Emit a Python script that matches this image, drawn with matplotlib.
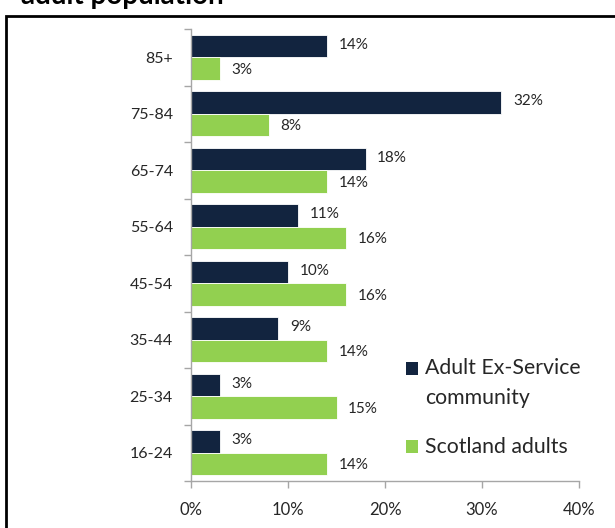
import matplotlib
matplotlib.use("Agg")
import matplotlib.pyplot as plt
from matplotlib.patches import Rectangle
import numpy as np

plt.rcParams['font.family'] = ['Lato', 'DejaVu Sans']

categories = ["16-24", "25-34", "35-44", "45-54", "55-64", "65-74", "75-84", "85+"]
ex_service = [3, 3, 9, 10, 11, 18, 32, 14]
scotland = [14, 15, 14, 16, 16, 14, 8, 3]
xticks = [0, 10, 20, 30, 40]
xtick_labels = ["0%", "10%", "20%", "30%", "40%"]
series_names = ["Adult Ex-Service\ncommunity", "Scotland adults"]

navy = "#12243F"
green = "#92D050"
grey = "#A6A6A6"
text_c = "#262626"

W, H = 615, 528
fig = plt.figure(figsize=(W/100, H/100), dpi=100)
ax = fig.add_axes([191/W, 1-481/H, (579-191)/W, (481-29)/H])

y = np.arange(len(categories))
h = 0.4
b1 = ax.barh(y + h/2, ex_service, height=h, color=navy, edgecolor="white", linewidth=0.6, label=series_names[0])
b2 = ax.barh(y - h/2, scotland, height=h, color=green, edgecolor="white", linewidth=0.6, label=series_names[1])

for yy, v in zip(y + h/2, ex_service):
    ax.text(v + 1.2, yy + 0.02, f"{v}%", va="center", ha="left", fontsize=11, color=text_c)
for yy, v in zip(y - h/2, scotland):
    ax.text(v + 1.2, yy - 0.02, f"{v}%", va="center", ha="left", fontsize=11, color=text_c)

ax.set_xlim(0, 40)
ax.set_ylim(-0.5, len(categories) - 0.5)
ax.set_xticks(xticks)
ax.set_xticklabels(xtick_labels, fontsize=12, color=text_c)
ax.set_yticks(np.arange(len(categories) + 1) - 0.5)
ax.set_yticklabels([])
ax.set_yticks(y, minor=True)
ax.set_yticklabels(categories, minor=True, fontsize=11.5, color=text_c)
ax.tick_params(axis="y", which="major", length=5, color=grey, width=1)
ax.tick_params(axis="y", which="minor", length=0, pad=13)
ax.tick_params(axis="x", length=5, color=grey, width=1, pad=10)

for s in ["top", "right"]:
    ax.spines[s].set_visible(False)
for s in ["left", "bottom"]:
    ax.spines[s].set_color(grey)
    ax.spines[s].set_linewidth(1)

# legend (handle aligned with first line, as in the reference)
def fx(px):
    return px / W
def fy(py):
    return 1 - py / H

fig.patches.append(Rectangle((fx(406), fy(375)), 12/W, 13/H, transform=fig.transFigure,
                             facecolor=navy, edgecolor="none"))
fig.text(fx(425), fy(368), "Adult Ex-Service", fontsize=15.3, color=text_c, va="center", ha="left")
fig.text(fx(425), fy(398), "community", fontsize=15.3, color=text_c, va="center", ha="left")
fig.patches.append(Rectangle((fx(406), fy(453)), 12/W, 13/H, transform=fig.transFigure,
                             facecolor=green, edgecolor="none"))
fig.text(fx(425), fy(447), series_names[1], fontsize=15.3, color=text_c, va="center", ha="left")

fig.text(fx(21), fy(4), "adult population", fontsize=20, fontweight="bold",
         ha="left", va="baseline", color="#000000")
fig.patches.append(Rectangle((fx(6), -0.05), 1.1, fy(16) + 0.05,
                             transform=fig.transFigure, fill=False,
                             edgecolor="black", linewidth=2))

fig.savefig("out.png", dpi=100)
